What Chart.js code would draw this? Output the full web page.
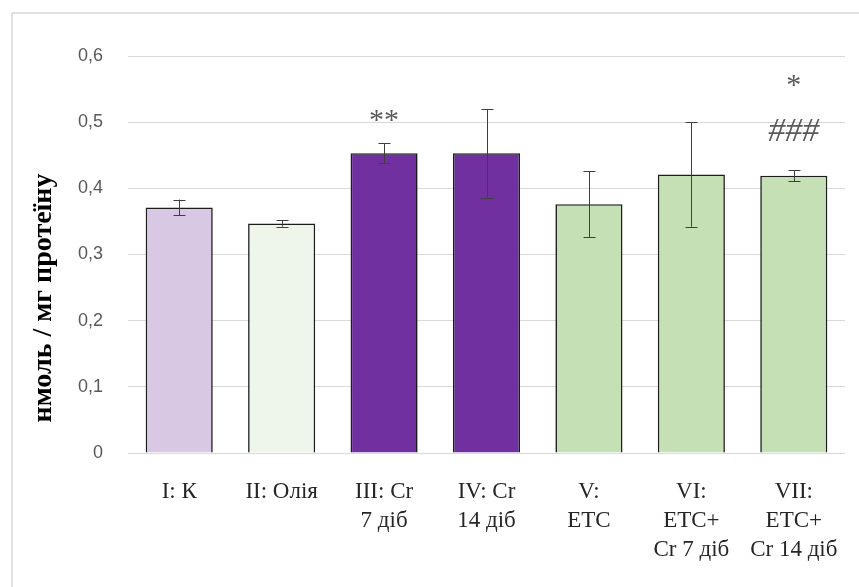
<!DOCTYPE html>
<html>
<head>
<meta charset="utf-8">
<script src="https://cdn.jsdelivr.net/npm/chart.js@4.4.1/dist/chart.umd.min.js"></script>
<style>
  html, body { margin: 0; padding: 0; background: #ffffff; }
  #wrap { position: relative; width: 859px; height: 587px; }
  canvas { display: block; }
</style>
</head>
<body>
<div id="wrap"><canvas id="chart" width="859" height="587"></canvas></div>
<script>
// Groups shown along the x axis (multi-line labels)
const groups = [
  ['I: К'],
  ['II: Олія'],
  ['III: Cr', '7 діб'],
  ['IV: Cr', '14 діб'],
  ['V:', 'ЕТС'],
  ['VI:', 'ЕТС+', 'Cr 7 діб'],
  ['VII:', 'ЕТС+', 'Cr 14 діб']
];
// Mean values, nmol / mg protein
const means = [0.371, 0.347, 0.453, 0.453, 0.376, 0.421, 0.419];
// Standard errors
const errors = [0.012, 0.005, 0.015, 0.067, 0.050, 0.079, 0.008];
// Significance marks above each group (stacked, lowest first)
const marks = [[], [], ['**'], [], [], [], ['###', '*']];
// Bar fills
const fills = ['#d9c8e4', '#eef6ec', '#7030a0', '#7030a0', '#c5e0b4', '#c5e0b4', '#c5e0b4'];
const yTicks = [0, 0.1, 0.2, 0.3, 0.4, 0.5, 0.6];
const yTitle = 'нмоль / мг протеїну';

// Outer frame of the chart object
const framePlugin = {
  id: 'frame',
  beforeDraw(chart) {
    const ctx = chart.ctx;
    ctx.save();
    ctx.fillStyle = '#ffffff';
    ctx.fillRect(0, 0, chart.width, chart.height);
    ctx.strokeStyle = '#d9d9d9';
    ctx.lineWidth = 1.5;
    ctx.beginPath();
    ctx.moveTo(12, chart.height);
    ctx.lineTo(12, 13);
    ctx.lineTo(chart.width, 13);
    ctx.stroke();
    ctx.restore();
  }
};

// Error bars, significance marks and the rotated axis title
const overlayPlugin = {
  id: 'overlay',
  afterDatasetsDraw(chart) {
    const ctx = chart.ctx;
    const y = chart.scales.y;
    const meta = chart.getDatasetMeta(0);
    ctx.save();
    ctx.strokeStyle = '#3f3f3f';
    ctx.lineWidth = 1;
    meta.data.forEach((bar, i) => {
      const x = Math.round(bar.x) + 0.5;
      const top = y.getPixelForValue(means[i] + errors[i]);
      const bot = y.getPixelForValue(means[i] - errors[i]);
      const cap = 6;
      ctx.beginPath();
      ctx.moveTo(x, top); ctx.lineTo(x, bot);
      ctx.moveTo(x - cap, Math.round(top) + 0.5); ctx.lineTo(x + cap, Math.round(top) + 0.5);
      ctx.moveTo(x - cap, Math.round(bot) + 0.5); ctx.lineTo(x + cap, Math.round(bot) + 0.5);
      ctx.stroke();
    });

    ctx.fillStyle = '#595959';
    ctx.textAlign = 'center';
    ctx.textBaseline = 'middle';
    meta.data.forEach((bar, i) => {
      const top = y.getPixelForValue(means[i] + errors[i]);
      marks[i].forEach((m, k) => {
        if (m === '###') {
          ctx.font = 'italic 34px "Liberation Serif"';
          ctx.fillText(m, bar.x, top - 38);
        } else if (k === 0) {
          ctx.font = '30px "Liberation Serif"';
          ctx.fillText(m, bar.x, top - 22);
        } else {
          ctx.font = '30px "Liberation Serif"';
          ctx.fillText(m, bar.x, top - 84);
        }
      });
    });

    ctx.fillStyle = '#000000';
    ctx.font = 'bold 28px "Liberation Serif"';
    ctx.translate(44, 298);
    ctx.rotate(-Math.PI / 2);
    ctx.fillText(yTitle, 0, 0);
    ctx.restore();
  }
};

new Chart(document.getElementById('chart'), {
  type: 'bar',
  data: {
    labels: groups,
    datasets: [{
      data: means,
      backgroundColor: fills,
      borderColor: '#1c1c1c',
      borderWidth: 1.6,
      categoryPercentage: 1,
      barPercentage: 0.655
    }]
  },
  options: {
    responsive: false,
    animation: false,
    layout: { padding: { left: 0, right: 14, top: 56, bottom: 0 } },
    plugins: { legend: { display: false }, tooltip: { enabled: false } },
    scales: {
      x: {
        grid: { display: false, drawTicks: false },
        border: { display: false },
        ticks: {
          color: '#262626',
          padding: 24,
          maxRotation: 0,
          autoSkip: false,
          font: { family: '"Liberation Serif"', size: 23, lineHeight: 1.27 }
        },
        afterFit(scale) {
          scale.height = 134;
          scale.paddingLeft = 0;
          scale.paddingRight = 0;
        }
      },
      y: {
        min: 0,
        max: 0.6,
        afterBuildTicks(scale) { scale.ticks = yTicks.map(v => ({ value: v })); },
        grid: { color: '#d9d9d9', lineWidth: 1, drawTicks: false },
        border: { display: false },
        ticks: {
          color: '#595959',
          padding: 25,
          font: { family: '"Liberation Sans"', size: 18 },
          callback: v => v === 0 ? '0' : v.toFixed(1).replace('.', ',')
        },
        afterFit(scale) { scale.width = 128; }
      }
    }
  },
  plugins: [framePlugin, overlayPlugin]
});
</script>
</body>
</html>
